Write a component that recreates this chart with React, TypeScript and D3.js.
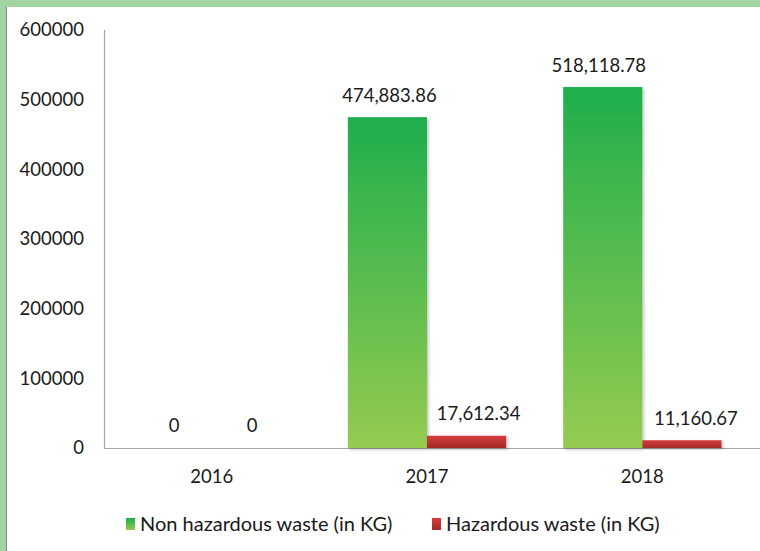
import React, { useEffect } from "react";
import * as d3 from "d3";

const categories = ["2016", "2017", "2018"];
const seriesNames = ["Non hazardous waste (in KG)", "Hazardous waste (in KG)"];
const nonHazardous = [0, 474883.86, 518118.78];
const hazardous = [0, 17612.34, 11160.67];
const yTicks = [0, 100000, 200000, 300000, 400000, 500000, 600000];
const labelNudge = [[2, 1], [2, 12], [-4, 14]]; // style: horizontal label shift per category [green, red]

const W = 760;
const H = 551;
const FONT = "Lato, 'Open Sans', sans-serif";
const FS = 18.5;
const LEGEND_FS = 20;

export default function App() {
  useEffect(() => {
    document.body.style.margin = "0";
  }, []);

  const plotLeft = 104;
  const plotRight = 750;
  const plotTop = 30;
  const plotBottom = 448;

  const x = d3.scaleBand<string>().domain(categories).range([plotLeft, plotRight]).paddingInner(0.265).paddingOuter(0.1325);
  const x1 = d3.scaleBand<number>().domain([0, 1]).range([0, x.bandwidth()]);
  const y = d3.scaleLinear().domain([0, 600000]).range([plotBottom, plotTop]);

  const series = [nonHazardous, hazardous];
  const fills = ["url(#gGreen)", "url(#gRed)"];
  const fmt = (v: number) => (v === 0 ? "0" : d3.format(",.2f")(v));

  return (
    <svg width={W} height={H} style={{ display: "block" }} fontFamily={FONT}>
      <defs>
        <linearGradient id="gGreen" x1="0" y1="0" x2="0" y2="1">
          <stop offset="0%" stopColor="#1fae4d" />
          <stop offset="100%" stopColor="#95cb51" />
        </linearGradient>
        <linearGradient id="gRed" x1="0" y1="0" x2="0" y2="1">
          <stop offset="0%" stopColor="#d63c3c" />
          <stop offset="100%" stopColor="#a22a2a" />
        </linearGradient>
        <filter id="shadow" x="-10%" y="-10%" width="130%" height="130%">
          <feDropShadow dx="1.5" dy="1.5" stdDeviation="1.5" floodColor="#000" floodOpacity="0.25" />
        </filter>
      </defs>
      <rect x={0} y={0} width={W} height={H} fill="#ffffff" />
      {/* green frame */}
      <rect x={0} y={0} width={W} height={7} fill="#a1d4a3" />
      <rect x={0} y={0} width={6} height={H} fill="#a1d4a3" />
      <line x1={6.5} y1={7} x2={6.5} y2={H} stroke="#8a8a8a" strokeWidth={1} />

      {/* axes */}
      <line x1={plotLeft + 0.5} y1={plotTop} x2={plotLeft + 0.5} y2={plotBottom} stroke="#a6a6a6" strokeWidth={1.2} />
      <line x1={plotLeft} y1={plotBottom + 0.5} x2={W} y2={plotBottom + 0.5} stroke="#a6a6a6" strokeWidth={1.2} />

      {yTicks.map((t) => (
        <text key={t} x={84} y={y(t)} dy="0.35em" textAnchor="end" fontSize={FS} fill="#1a1a1a">
          {t}
        </text>
      ))}

      {categories.map((c) => (
        <text key={c} x={(x(c) as number) + x.bandwidth() / 2} y={477} dy="0.35em" textAnchor="middle" fontSize={FS} fill="#1a1a1a">
          {c}
        </text>
      ))}

      {categories.map((c, i) =>
        series.map((s, si) => {
          const bx = (x(c) as number) + (x1(si) as number);
          const bw = x1.bandwidth();
          const top = y(s[i]);
          return (
            <g key={c + si}>
              {s[i] > 0 && (
                <rect x={bx} y={top} width={bw} height={plotBottom - top} fill={fills[si]} filter="url(#shadow)" />
              )}
              <text
                x={bx + bw / 2 + labelNudge[i][si]}
                y={top - 22}
                dy="0.35em"
                textAnchor="middle"
                fontSize={FS}
                fill="#1a1a1a"
              >
                {fmt(s[i])}
              </text>
            </g>
          );
        })
      )}

      {/* legend */}
      <g>
        <rect x={126} y={518} width={9} height={12} fill="url(#gGreen)" />
        <text x={140} y={524} dy="0.35em" fontSize={LEGEND_FS} fill="#1a1a1a">{seriesNames[0]}</text>
        <rect x={432} y={518} width={9} height={12} fill="url(#gRed)" />
        <text x={446} y={524} dy="0.35em" fontSize={LEGEND_FS} fill="#1a1a1a">{seriesNames[1]}</text>
      </g>
    </svg>
  );
}
